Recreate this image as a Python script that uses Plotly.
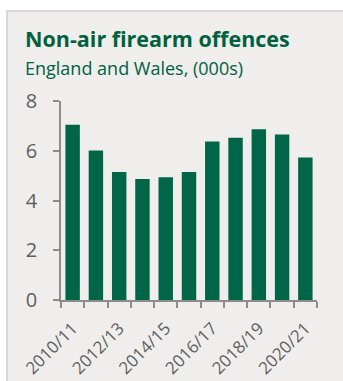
import plotly.graph_objects as go

# Non-air firearm offences, England and Wales (thousands)
years = ["2010/11", "2011/12", "2012/13", "2013/14", "2014/15", "2015/16",
         "2016/17", "2017/18", "2018/19", "2019/20", "2020/21"]
offences = [7.05, 6.01, 5.15, 4.86, 4.93, 5.15, 6.37, 6.52, 6.86, 6.65, 5.73]
y_ticks = [0, 2, 4, 6, 8]

W, H = 343, 381
L, R, T, B = 61, 26, 101, 81
pw, ph = W - L - R, H - T - B

GREEN = "#006647"
TITLE_GREEN = "#00613f"
PANEL = "#efeeec"
AXIS = "#8c8c8c"
TEXT = "#5e5e5e"


def px_x(p):
    return (p - L) / pw


def px_y(p):
    return (H - B - p) / ph


fig = go.Figure(go.Bar(
    x=years, y=offences, marker=dict(color=GREEN, line=dict(width=0)),
    width=0.62, hoverinfo="x+y",
))

# light panel behind the chart
fig.add_shape(type="rect", xref="paper", yref="paper", layer="below",
              x0=px_x(7), x1=px_x(W + 5), y0=px_y(H + 5), y1=px_y(11),
              fillcolor=PANEL, line=dict(color="#d8d8d8", width=2))

fig.add_annotation(text="<b>Non-air firearm offences</b>", xref="paper", yref="paper",
                   x=px_x(23), y=px_y(38.5), xanchor="left", yanchor="middle",
                   showarrow=False, font=dict(family="Open Sans", size=21.5, color=TITLE_GREEN))
fig.add_annotation(text="England and Wales, (000s)", xref="paper", yref="paper",
                   x=px_x(23), y=px_y(68), xanchor="left", yanchor="middle",
                   showarrow=False, font=dict(family="Open Sans", size=18, color=TITLE_GREEN))

fig.update_layout(
    width=W, height=H, margin=dict(l=L, r=R, t=T, b=B, autoexpand=False),
    paper_bgcolor="white", plot_bgcolor=PANEL, showlegend=False,
    bargap=0.38,
)
fig.update_yaxes(range=[0, 8], tickvals=y_ticks, showgrid=False, zeroline=False,
                 showline=True, linecolor=AXIS, linewidth=1.5, automargin=False,
                 ticks="outside", ticklen=6, tickcolor=AXIS, tickwidth=1.5,
                 ticklabelstandoff=12,
                 tickfont=dict(family="Open Sans", size=20, color=TEXT))
fig.update_xaxes(tickmode="array", tickvals=years,
                 ticktext=[y if i % 2 == 0 else "" for i, y in enumerate(years)],
                 tickson="boundaries", tickangle=-45, showgrid=False, automargin=False,
                 showline=True, linecolor=AXIS, linewidth=1.5,
                 ticks="outside", ticklen=6, tickcolor=AXIS, tickwidth=1.5,
                 ticklabelstandoff=10,
                 tickfont=dict(family="Open Sans", size=17, color=TEXT))

fig.write_html("out.html")
